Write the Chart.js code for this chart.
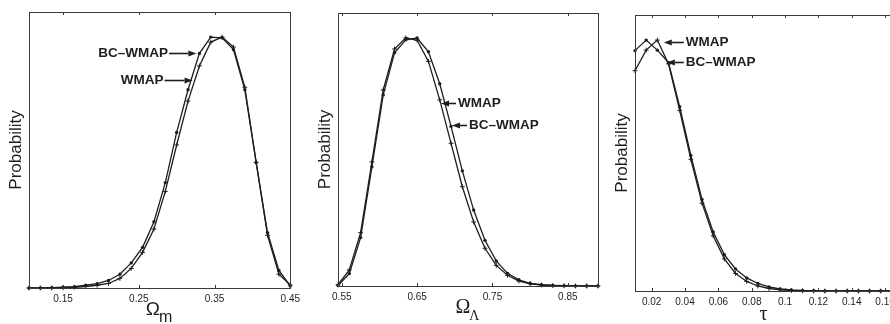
<!DOCTYPE html>
<html>
<head>
<meta charset="utf-8">
<script src="https://cdn.jsdelivr.net/npm/chart.js@4"></script>
<style>
  html, body { margin: 0; padding: 0; background: #fff; }
  body { width: 890px; height: 324px; overflow: hidden; position: relative; }
  .panel { position: absolute; top: 0; }
</style>
</head>
<body>
<div class="panel" style="left:0px"><canvas id="c1" width="305" height="324"></canvas></div>
<div class="panel" style="left:300px"><canvas id="c2" width="320" height="324"></canvas></div>
<div class="panel" style="left:600px"><canvas id="c3" width="300" height="324"></canvas></div>
<script>
// Omega_m panel
const omX    = [0.105, 0.12, 0.135, 0.15, 0.165, 0.18, 0.195, 0.21, 0.225, 0.24, 0.255, 0.27, 0.285, 0.3, 0.315, 0.33, 0.345, 0.36, 0.375, 0.39, 0.405, 0.42, 0.435, 0.45];
const omBc   = [0, 0, 0.001, 0.003, 0.005, 0.011, 0.017, 0.03, 0.055, 0.1, 0.162, 0.264, 0.42, 0.62, 0.79, 0.935, 1.0, 0.997, 0.95, 0.79, 0.5, 0.22, 0.07, 0.008];
const omWmap = [0, 0, 0, 0.001, 0.003, 0.006, 0.011, 0.018, 0.038, 0.078, 0.142, 0.235, 0.385, 0.57, 0.745, 0.885, 0.98, 1.0, 0.96, 0.8, 0.5, 0.21, 0.055, 0.012];
const omTicks = [0.15, 0.25, 0.35, 0.45];

// Omega_Lambda panel
const olX    = [0.545, 0.56, 0.575, 0.59, 0.605, 0.62, 0.635, 0.65, 0.665, 0.68, 0.695, 0.71, 0.725, 0.74, 0.755, 0.77, 0.785, 0.8, 0.815, 0.83, 0.845, 0.86, 0.875, 0.89];
const olWmap = [0.005, 0.065, 0.215, 0.5, 0.79, 0.955, 1.0, 0.99, 0.905, 0.75, 0.575, 0.4, 0.258, 0.152, 0.083, 0.043, 0.02, 0.009, 0.004, 0.002, 0.001, 0, 0, 0];
const olBc   = [0.002, 0.05, 0.195, 0.48, 0.77, 0.94, 0.992, 0.999, 0.944, 0.815, 0.643, 0.464, 0.306, 0.184, 0.101, 0.051, 0.025, 0.011, 0.005, 0.002, 0.001, 0, 0, 0];
const olTicks = [0.55, 0.65, 0.75, 0.85];

// tau panel
const tauX    = [0.01, 0.0167, 0.0234, 0.0301, 0.0368, 0.0435, 0.0502, 0.0569, 0.0636, 0.0703, 0.077, 0.0837, 0.0904, 0.0971, 0.1038, 0.1105, 0.1172, 0.1239, 0.1306, 0.1373, 0.144, 0.1507, 0.1574, 0.1641];
const tauBc   = [0.958, 1.0, 0.96, 0.91, 0.735, 0.54, 0.365, 0.235, 0.145, 0.088, 0.052, 0.03, 0.016, 0.008, 0.004, 0.002, 0.001, 0, 0, 0, 0, 0, 0, 0];
const tauWmap = [0.878, 0.96, 1.0, 0.905, 0.72, 0.525, 0.35, 0.22, 0.128, 0.07, 0.038, 0.02, 0.01, 0.005, 0.002, 0.001, 0, 0, 0, 0, 0, 0, 0, 0];
const tauTicks = [0.02, 0.04, 0.06, 0.08, 0.1, 0.12, 0.14, 0.16];

const INK = '#1e1e1e';
const SANS = '"Liberation Sans", Arial, Helvetica, sans-serif';
const SERIF = '"Liberation Serif", "Times New Roman", serif';

// box, inward ticks, axis titles and arrow labels
const decorPlugin = {
    id: 'decor',
    afterDatasetsDraw(chart, args, opts) {
        const { ctx, chartArea: a, scales: { x, y } } = chart;
        ctx.save();
        ctx.strokeStyle = '#3a3a3a';
        ctx.lineWidth = 1;
        ctx.strokeRect(Math.round(a.left) + 0.5, Math.round(a.top) + 0.5, Math.round(a.right - a.left), Math.round(a.bottom - a.top));
        x.ticks.forEach(t => {
            const px = Math.round(x.getPixelForValue(t.value)) + 0.5;
            ctx.beginPath();
            ctx.moveTo(px, a.bottom); ctx.lineTo(px, a.bottom - 3);
            ctx.moveTo(px, a.top); ctx.lineTo(px, a.top + 3);
            ctx.stroke();
        });

        ctx.fillStyle = INK;
        // y title
        ctx.save();
        ctx.translate(a.left - 13, (a.top + a.bottom) / 2);
        ctx.rotate(-Math.PI / 2);
        ctx.font = '17px ' + SANS;
        ctx.textAlign = 'center';
        ctx.textBaseline = 'middle';
        ctx.fillText('Probability', 0, 0);
        ctx.restore();

        // x title with subscript
        const cx = (a.left + a.right) / 2 + (opts.titleShift || 0);
        ctx.textBaseline = 'alphabetic';
        ctx.textAlign = 'left';
        ctx.font = opts.mainFont;
        const w1 = ctx.measureText(opts.main).width;
        ctx.font = opts.subFont;
        const w2 = opts.sub ? ctx.measureText(opts.sub).width : 0;
        const x0 = cx - (w1 + w2) / 2;
        ctx.font = opts.mainFont;
        ctx.fillText(opts.main, x0, opts.baseline);
        if (opts.sub) {
            ctx.font = opts.subFont;
            ctx.fillText(opts.sub, x0 + w1 - 1, opts.baseline + 7);
        }

        // arrow labels
        ctx.font = 'bold 13.5px ' + SANS;
        ctx.textBaseline = 'middle';
        ctx.lineWidth = 1.6;
        ctx.strokeStyle = INK;
        (opts.notes || []).forEach(n => {
            const tx = x.getPixelForValue(n.tipX);
            const ty = Math.round(y.getPixelForValue(n.tipY)) + 0.5;
            const sx = x.getPixelForValue(n.tailX);
            const dir = tx > sx ? 1 : -1;
            const head = 8;
            ctx.beginPath();
            ctx.moveTo(sx, ty);
            ctx.lineTo(tx - dir * head, ty);
            ctx.stroke();
            ctx.beginPath();
            ctx.moveTo(tx, ty);
            ctx.lineTo(tx - dir * head, ty - 3);
            ctx.lineTo(tx - dir * head, ty + 3);
            ctx.closePath();
            ctx.fill();
            if (dir > 0) {
                ctx.textAlign = 'right';
                ctx.fillText(n.text, sx - 1, ty);
            } else {
                ctx.textAlign = 'left';
                ctx.fillText(n.text, sx + 2, ty);
            }
        });
        ctx.restore();
    }
};

function toPoints(xs, ys) {
    return xs.map((v, i) => ({ x: v, y: ys[i] }));
}

function makeChart(canvasId, cfg) {
    return new Chart(document.getElementById(canvasId), {
        type: 'line',
        data: {
            datasets: [
                {
                    label: 'WMAP',
                    data: toPoints(cfg.xs, cfg.wmap),
                    borderColor: INK, borderWidth: 1.3,
                    pointStyle: 'cross', pointRadius: 2.4, pointBorderWidth: 1,
                    pointBorderColor: INK, pointBackgroundColor: INK,
                    tension: 0, fill: false
                },
                {
                    label: 'BC-WMAP',
                    data: toPoints(cfg.xs, cfg.bc),
                    borderColor: INK, borderWidth: 1.3,
                    pointStyle: 'circle', pointRadius: 1.7, pointBorderWidth: 0,
                    pointBackgroundColor: INK,
                    tension: 0, fill: false
                }
            ]
        },
        options: {
            responsive: false,
            animation: false,
            devicePixelRatio: 1,
            clip: false,
            layout: { padding: cfg.padding },
            plugins: {
                legend: { display: false },
                tooltip: { enabled: false },
                decor: cfg.decor
            },
            scales: {
                x: {
                    type: 'linear',
                    min: cfg.min, max: cfg.max,
                    afterBuildTicks: axis => { axis.ticks = cfg.ticks.map(v => ({ value: v })); },
                    grid: { display: false, drawTicks: false },
                    border: { display: false },
                    ticks: {
                        padding: 5, maxRotation: 0, autoSkip: false,
                        color: INK, font: { family: SANS, size: 10 },
                        callback: v => String(v)
                    }
                },
                y: { display: false, min: 0, max: 1.1 }
            }
        },
        plugins: [decorPlugin]
    });
}

makeChart('c1', {
    xs: omX, wmap: omWmap, bc: omBc, ticks: omTicks, min: 0.105, max: 0.45,
    padding: { left: 29, right: 14, top: 12, bottom: 14 },
    decor: {
        main: 'Ω', sub: 'm', mainFont: '19px ' + SANS, subFont: '16px ' + SANS, baseline: 315, titleShift: 0,
        notes: [
            { text: 'BC–WMAP', tipX: 0.326, tipY: 0.937, tailX: 0.29 },
            { text: 'WMAP', tipX: 0.321, tipY: 0.83, tailX: 0.284 }
        ]
    }
});

makeChart('c2', {
    xs: olX, wmap: olWmap, bc: olBc, ticks: olTicks, min: 0.545, max: 0.89,
    padding: { left: 38, right: 22, top: 13, bottom: 16 },
    decor: {
        main: 'Ω', sub: 'Λ', mainFont: '20px ' + SERIF, subFont: '14px ' + SERIF, baseline: 313, titleShift: 0,
        notes: [
            { text: 'WMAP', tipX: 0.6817, tipY: 0.739, tailX: 0.7016 },
            { text: 'BC–WMAP', tipX: 0.6963, tipY: 0.65, tailX: 0.7162 }
        ]
    }
});

makeChart('c3', {
    xs: tauX, wmap: tauWmap, bc: tauBc, ticks: tauTicks, min: 0.01, max: 0.1641,
    padding: { left: 35, right: 7, top: 15, bottom: 11 },
    decor: {
        main: 'τ', sub: '', mainFont: '20px ' + SERIF, subFont: '14px ' + SERIF, baseline: 320, titleShift: 0,
        notes: [
            { text: 'WMAP', tipX: 0.0273, tipY: 0.993, tailX: 0.0393 },
            { text: 'BC–WMAP', tipX: 0.0291, tipY: 0.913, tailX: 0.0393 }
        ]
    }
});
</script>
</body>
</html>
